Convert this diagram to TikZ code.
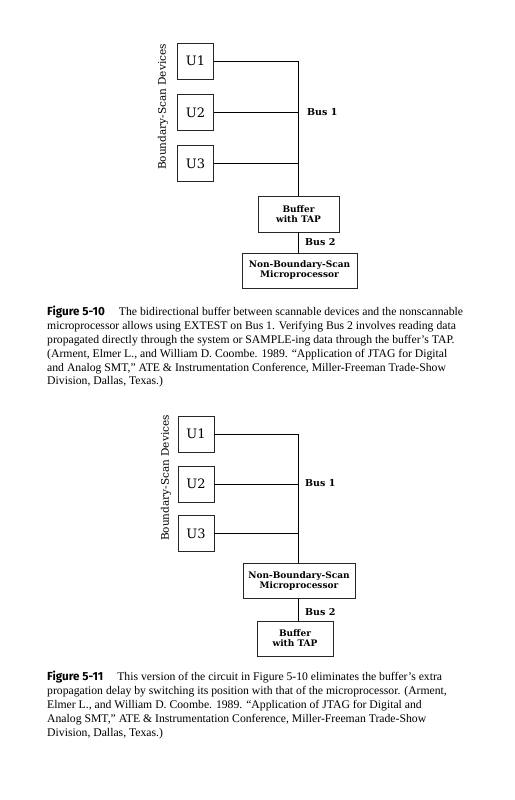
\documentclass[tikz,border=0pt]{standalone}
\usepackage{fontspec}
\setmainfont{Liberation Serif}
\newfontfamily\diagfont{DejaVu Serif}
\newfontfamily\figfont{Fira Sans}
\usetikzlibrary{positioning}
\tikzset{
  unit/.style={draw=black!85,line width=0.6pt,minimum width=36pt,minimum height=36pt,
    inner sep=0pt,font=\diagfont\fontsize{13}{13}\selectfont},
  chip/.style={draw=black!85,line width=0.6pt,inner sep=0pt,align=center,
    font=\diagfont\bfseries\fontsize{9}{10}\selectfont},
  buslabel/.style={anchor=west,inner sep=0pt,font=\diagfont\bfseries\fontsize{9.5}{10}\selectfont},
  sidelabel/.style={rotate=90,inner sep=0pt,font=\diagfont\fontsize{10.5}{10}\selectfont},
  wire/.style={draw=black,line width=0.8pt},
  figcaption/.style={anchor=north west,align=left,inner sep=0pt,
    font=\fontsize{11.7}{13.85}\selectfont}
}
\newcommand{\fignum}[1]{{\figfont\bfseries #1}\hspace{14pt}}
\begin{document}
\begin{tikzpicture}[x=1pt,y=-1pt]
\useasboundingbox[fill=white] (0,0) rectangle (514,800);
%Figure 5-10: devices
	\node (ua) [unit] at (195.5,61) {U1};
	\node (ub) [unit] at (195.5,112.5) {U2};
	\node (uc) [unit] at (195.5,163.5) {U3};
	\node (devA) [sidelabel] at (163,107) {Boundary-Scan Devices};
%buffer and microprocessor
	\node (bufA) [chip,minimum width=81pt,minimum height=36pt] at (298.5,214)
		{Buffer\\with TAP};
	\node (cpuA) [chip,minimum width=115pt,minimum height=35pt] at (299.5,270.5)
		{Non-Boundary-Scan\\Microprocessor};
%Bus 1
	\coordinate (busAa) at (bufA.north |- ua.east);
	\coordinate (busAb) at (bufA.north |- ub.east);
	\coordinate (busAc) at (bufA.north |- uc.east);
	\draw[wire] (ua.east) -- (busAa) -- (bufA.north);
	\draw[wire] (ub.east) -- (busAb);
	\draw[wire] (uc.east) -- (busAc);
	\node (busAlab) [buslabel] at (307,112) {Bus 1};
%Bus 2
	\draw[wire] (bufA.south) -- (bufA.south |- cpuA.north);
	\node (busBlab) [buslabel] at (305,242) {Bus 2};
%caption
	\node (capA) [figcaption] at (47,306)
		{\fignum{Figure 5-10}The bidirectional buffer between scannable devices and the nonscannable\\
		microprocessor allows using EXTEST on Bus 1. Verifying Bus 2 involves reading data\\
		propagated directly through the system or SAMPLE-ing data through the buffer’s TAP.\\
		(Arment, Elmer L., and William D. Coombe. 1989. “Application of JTAG for Digital\\
		and Analog SMT,” ATE \& Instrumentation Conference, Miller-Freeman Trade-Show\\
		Division, Dallas, Texas.)};
%Figure 5-11: devices
	\node (va) [unit] at (196,434) {U1};
	\node (vb) [unit] at (196,484) {U2};
	\node (vc) [unit] at (196,533.5) {U3};
	\node (devB) [sidelabel] at (166,478) {Boundary-Scan Devices};
%microprocessor and buffer
	\node (cpuB) [chip,minimum width=112pt,minimum height=35pt] at (299,581)
		{Non-Boundary-Scan\\Microprocessor};
	\node (bufB) [chip,minimum width=76pt,minimum height=35pt] at (295,638.5)
		{Buffer\\with TAP};
%Bus 1
	\coordinate (busBa) at (298,434);
	\coordinate (busBb) at (busBa |- vb.east);
	\coordinate (busBc) at (busBa |- vc.east);
	\draw[wire] (va.east) -- (busBa) -- (busBa |- cpuB.north);
	\draw[wire] (vb.east) -- (busBb);
	\draw[wire] (vc.east) -- (busBc);
	\node (busClab) [buslabel] at (305,483) {Bus 1};
%Bus 2
	\coordinate (busBd) at (busBa |- cpuB.south);
	\draw[wire] (busBd) -- (busBd |- bufB.north);
	\node (busDlab) [buslabel] at (305,612) {Bus 2};
%caption
	\node (capB) [figcaption] at (47,671)
		{\fignum{Figure 5-11}This version of the circuit in Figure 5-10 eliminates the buffer’s extra\\
		propagation delay by switching its position with that of the microprocessor. (Arment,\\
		Elmer L., and William D. Coombe. 1989. “Application of JTAG for Digital and\\
		Analog SMT,” ATE \& Instrumentation Conference, Miller-Freeman Trade-Show\\
		Division, Dallas, Texas.)};
\end{tikzpicture}
\end{document}
